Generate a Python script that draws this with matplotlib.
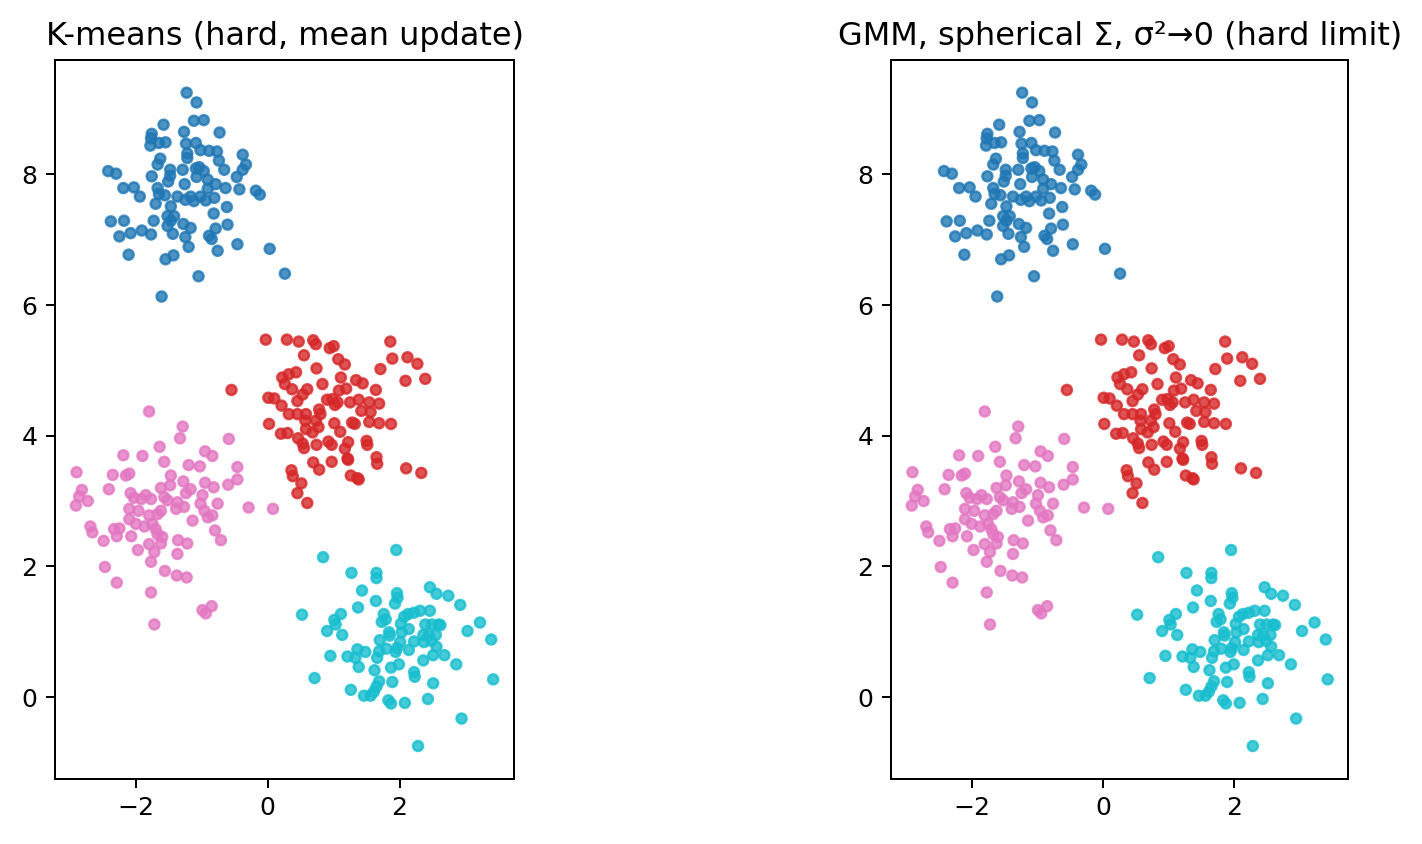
import numpy as np
import matplotlib
matplotlib.use("Agg")
import matplotlib.pyplot as plt

# points, one array pair per cluster
blue_x = [-1.23, -1.08, -1.58, -1.12, -0.97, -1.76, -1.77, -1.27, -1.78, -1.65, -1.55, -1.24, -1.09, -1.02,
          -0.89, -1.22, -1.22, -1.63, -1.67, -2.42, -2.30, -1.76, -1.48, -1.48, -1.29, -1.09, -1.04, -0.97,
          -0.91, -1.08, -1.51, -1.26, -2.19, -2.03, -1.67, -1.94, -1.65, -1.56, -1.37, -1.17, -1.02, -0.91,
          -0.73, -0.77, -0.38, -0.33, -0.38, -0.74, -0.66, -0.47, -0.79, -0.64, -0.43, -0.18, -0.12, -0.81,
          -1.25, -1.12, -0.94, -1.70, -1.47, -0.62, -2.38, -2.18, -1.73, -1.52, -1.47, -1.42, -1.52, -1.28,
          -1.17, -0.82, -0.79, -0.61, -2.25, -2.08, -1.91, -1.77, -1.44, -1.25, -0.89, -0.85, -1.20, -0.46,
          -0.76, 0.03, -2.11, -1.55, -1.43, -1.05, 0.26, -1.61]
blue_y = [9.25, 9.10, 8.76, 8.82, 8.83, 8.62, 8.55, 8.65, 8.44, 8.48, 8.49, 8.47, 8.48, 8.37,
          8.36, 8.32, 8.25, 8.24, 8.15, 8.05, 8.01, 7.97, 8.07, 7.98, 8.07, 8.09, 8.11, 8.05,
          7.92, 7.96, 7.89, 7.85, 7.79, 7.80, 7.79, 7.66, 7.70, 7.68, 7.66, 7.66, 7.66, 7.78,
          8.64, 8.35, 8.30, 8.15, 8.07, 8.21, 8.07, 7.96, 7.85, 7.79, 7.77, 7.75, 7.69, 7.64,
          7.61, 7.59, 7.60, 7.55, 7.51, 7.50, 7.28, 7.29, 7.29, 7.36, 7.29, 7.36, 7.21, 7.24,
          7.18, 7.40, 7.17, 7.23, 7.05, 7.10, 7.14, 7.08, 7.09, 7.04, 7.06, 7.01, 6.89, 6.93,
          6.83, 6.86, 6.77, 6.70, 6.76, 6.44, 6.48, 6.13]

red_x = [-0.03, 0.29, 0.47, 0.69, 0.73, 0.94, 1.00, 1.86, 0.55, 1.07, 1.17, 1.89, 2.12, 2.27,
         1.71, 0.74, 0.22, 0.32, 0.43, 0.26, 0.37, 0.83, 1.11, 1.34, 1.44, 2.09, 2.39, 0.60,
         0.53, 1.08, 1.19, 1.64, 0.01, 0.10, 0.21, 0.45, 0.90, 0.98, 1.06, 1.02, 1.25, 1.38,
         1.54, 1.69, 1.42, 1.56, 0.32, 0.45, 0.58, 0.78, 0.80, 0.02, 0.57, 0.73, 1.01, 1.28,
         1.32, 1.54, 1.69, 1.87, 0.58, 0.77, 0.20, 0.30, 0.68, 1.10, 0.46, 0.53, 0.55, 0.74,
         0.92, 0.97, 1.22, 1.17, 1.50, 1.51, 1.21, 1.22, 1.65, 1.66, 0.69, 0.78, 0.97, 0.36,
         0.38, 0.51, 0.45, 0.60, 1.26, 1.36, 1.38, 2.10, 2.33, -0.55]
red_y = [5.47, 5.47, 5.44, 5.46, 5.40, 5.34, 5.37, 5.44, 5.23, 5.17, 5.09, 5.18, 5.20, 5.10,
         5.02, 5.03, 4.89, 4.94, 4.97, 4.79, 4.71, 4.79, 4.89, 4.85, 4.80, 4.84, 4.87, 4.71,
         4.63, 4.69, 4.72, 4.70, 4.58, 4.57, 4.46, 4.53, 4.55, 4.56, 4.51, 4.47, 4.51, 4.55,
         4.51, 4.49, 4.38, 4.36, 4.33, 4.33, 4.33, 4.40, 4.33, 4.18, 4.23, 4.23, 4.19, 4.20,
         4.18, 4.21, 4.19, 4.18, 4.10, 4.13, 4.03, 4.04, 4.05, 4.06, 3.96, 3.88, 3.81, 3.86,
         3.91, 3.86, 3.90, 3.80, 3.92, 3.86, 3.65, 3.63, 3.67, 3.57, 3.59, 3.48, 3.60, 3.47,
         3.38, 3.27, 3.12, 2.97, 3.39, 3.35, 3.33, 3.50, 3.43, 4.70]

pink_x = [-1.80, -1.29, -1.33, -0.59, -1.64, -2.19, -1.90, -0.95, -0.84, -1.57, -1.20, -1.03, -0.46, -2.90,
          -2.35, -2.15, -2.10, -1.47, -0.46, -0.60, -1.28, -0.95, -0.82, -2.41, -2.82, -2.86, -2.73, -2.91,
          -1.62, -1.48, -1.17, -1.24, -2.08, -2.03, -1.85, -1.77, -1.92, -1.57, -1.52, -1.37, -1.27, -1.39,
          -0.99, -1.02, -0.96, -0.91, -0.84, -0.76, -0.29, -2.10, -1.96, -1.80, -1.67, -1.62, -2.10, -2.00,
          -1.87, -1.75, -1.70, -1.14, -2.69, -2.66, -2.33, -2.25, -2.29, -2.49, -2.07, -1.67, -1.60, -1.62,
          -1.80, -1.72, -1.97, -1.36, -1.22, -1.37, -0.80, -0.71, -1.77, -2.47, -1.56, -1.38, -1.23, -2.29,
          -1.77, -0.99, -0.85, -0.94, -1.72, 0.08]
pink_y = [4.37, 4.14, 3.96, 3.95, 3.83, 3.70, 3.69, 3.76, 3.69, 3.60, 3.55, 3.53, 3.52, 3.44,
          3.40, 3.39, 3.42, 3.39, 3.33, 3.25, 3.30, 3.28, 3.21, 3.18, 3.17, 3.07, 3.00, 2.93,
          3.20, 3.24, 3.18, 3.12, 3.12, 3.05, 3.09, 3.03, 3.03, 3.06, 3.01, 2.98, 2.91, 2.88,
          3.09, 2.96, 2.85, 2.75, 2.78, 2.96, 2.90, 2.88, 2.85, 2.78, 2.80, 2.85, 2.72, 2.65,
          2.61, 2.65, 2.57, 2.70, 2.61, 2.52, 2.57, 2.58, 2.46, 2.39, 2.46, 2.49, 2.45, 2.35,
          2.34, 2.22, 2.25, 2.40, 2.35, 2.19, 2.55, 2.40, 2.07, 1.99, 1.93, 1.86, 1.83, 1.75,
          1.60, 1.33, 1.39, 1.28, 1.11, 2.88]

cyan_x = [1.95, 0.84, 1.27, 1.65, 1.65, 1.43, 2.46, 2.56, 2.74, 1.96, 1.97, 1.64, 1.93, 2.92,
          1.37, 0.52, 1.11, 1.01, 1.03, 0.90, 1.13, 1.76, 1.79, 1.73, 2.07, 2.13, 2.22, 2.31,
          2.46, 2.02, 2.14, 2.39, 2.49, 2.59, 2.62, 3.22, 3.03, 3.39, 1.84, 1.85, 2.03, 2.36,
          2.44, 2.55, 1.70, 2.01, 2.22, 2.37, 2.48, 2.56, 0.95, 1.21, 1.36, 1.48, 1.33, 1.69,
          1.66, 1.80, 1.94, 1.96, 2.14, 2.36, 2.51, 2.68, 1.38, 1.62, 1.87, 1.99, 2.22, 2.23,
          2.86, 0.71, 3.42, 1.69, 1.89, 2.51, 1.26, 1.46, 1.56, 1.61, 1.65, 1.83, 1.87, 2.08,
          2.43, 2.94, 2.28]
cyan_y = [2.25, 2.14, 1.90, 1.90, 1.82, 1.63, 1.68, 1.58, 1.55, 1.59, 1.52, 1.47, 1.43, 1.41,
          1.37, 1.26, 1.27, 1.18, 1.11, 1.01, 0.95, 1.27, 1.19, 1.15, 1.23, 1.27, 1.29, 1.32,
          1.32, 1.12, 1.04, 1.11, 1.11, 1.11, 1.10, 1.14, 1.01, 0.88, 0.99, 0.94, 0.99, 0.95,
          0.94, 0.95, 0.87, 0.84, 0.85, 0.84, 0.86, 0.77, 0.63, 0.62, 0.73, 0.69, 0.60, 0.70,
          0.60, 0.74, 0.69, 0.75, 0.72, 0.56, 0.64, 0.64, 0.46, 0.41, 0.45, 0.50, 0.38, 0.31,
          0.50, 0.29, 0.27, 0.24, 0.23, 0.21, 0.11, 0.02, 0.02, 0.08, 0.16, -0.05, -0.10, -0.09,
          -0.03, -0.33, -0.75]

titles = ["K-means (hard, mean update)", "GMM, spherical \u03a3, \u03c3\u00b2\u21920 (hard limit)"]


def stack_clusters():
    xs = [blue_x, red_x, pink_x, cyan_x]
    ys = [blue_y, red_y, pink_y, cyan_y]
    X = np.column_stack([np.concatenate(xs), np.concatenate(ys)])
    labels = np.concatenate([np.full(len(x), k) for k, x in enumerate(xs)])
    return X, labels


def main():
    X, labels = stack_clusters()
    fig = plt.figure(figsize=(1422 / 180, 844 / 180), dpi=180)
    boxes = [[0.0387, 0.0774, 0.3228, 0.8515], [0.6266, 0.0774, 0.3217, 0.8515]]
    for box, title in zip(boxes, titles):
        ax = fig.add_axes(box)
        # tab10 with 4 labels -> blue, red, pink, cyan
        ax.scatter(X[:, 0], X[:, 1], c=labels, cmap="tab10", s=16, alpha=0.8)
        ax.set_title(title, fontsize=12.8)
    fig.savefig("out.png", dpi=180)
    plt.close(fig)


if __name__ == "__main__":
    main()
